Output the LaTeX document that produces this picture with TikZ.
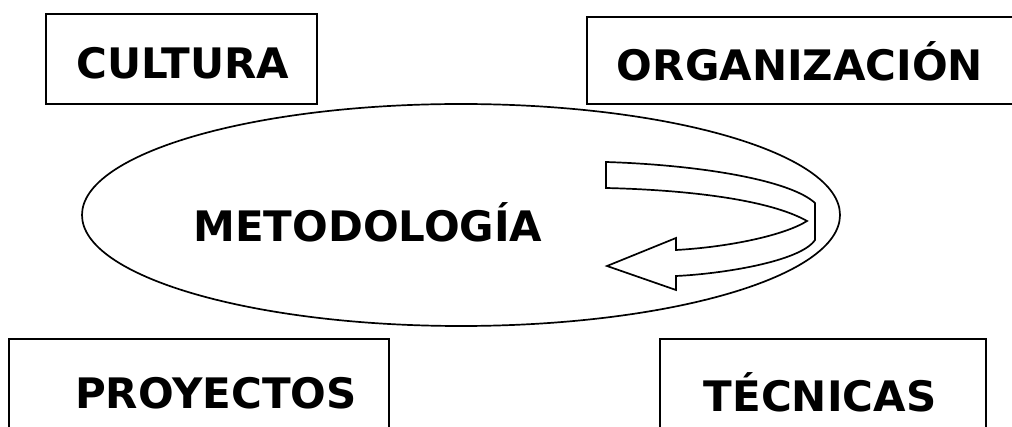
\documentclass[tikz,border=0pt]{standalone}
\usepackage{fontspec}
\setmainfont{DejaVu Sans}
\usetikzlibrary{shapes.geometric}
\tikzset{
  lbl/.style={font=\fontsize{42}{46}\selectfont\bfseries, inner sep=0pt, anchor=center},
  boxline/.style={draw=black, line width=1.8pt},
}
\begin{document}
\begin{tikzpicture}[x=1pt,y=-1pt]
\useasboundingbox (0,0) rectangle (1012,427);
\clip (0,0) rectangle (1012,427);
\fill[white] (0,0) rectangle (1012,427);
% boxes
\draw[boxline] (46,14) rectangle (317,104);
\draw[boxline] (587,17) rectangle (1030,104);
\draw[boxline] (9,339) rectangle (389,440);
\draw[boxline] (660,339) rectangle (986,440);
% ellipse
\node[ellipse, draw, line width=1.7pt, minimum width=758pt, minimum height=222pt, inner sep=0pt] (met) at (461,215) {};
% labels
\node[lbl] (cul) at (183,63) {CULTURA};
\node[lbl] (org) at (800,61) {ORGANIZACIÓN};
\node[lbl] (pro) at (216,393) {PROYECTOS};
\node[lbl] (tec) at (820,392) {TÉCNICAS};
\node[lbl] (mtx) at (368,222) {METODOLOGÍA};
% U-turn arrow
\draw[line width=1.7pt, line join=miter, fill=white]
  (606,162) .. controls (700,165) and (790,180) .. (815,203)
  -- (815,240) .. controls (800,262) and (720,274) .. (676,276)
  -- (676,290) -- (607,266) -- (676,238) -- (676,250)
  .. controls (730,247) and (785,235) .. (807,221)
  .. controls (770,200) and (690,190) .. (606,188) -- cycle;
\end{tikzpicture}
\end{document}
